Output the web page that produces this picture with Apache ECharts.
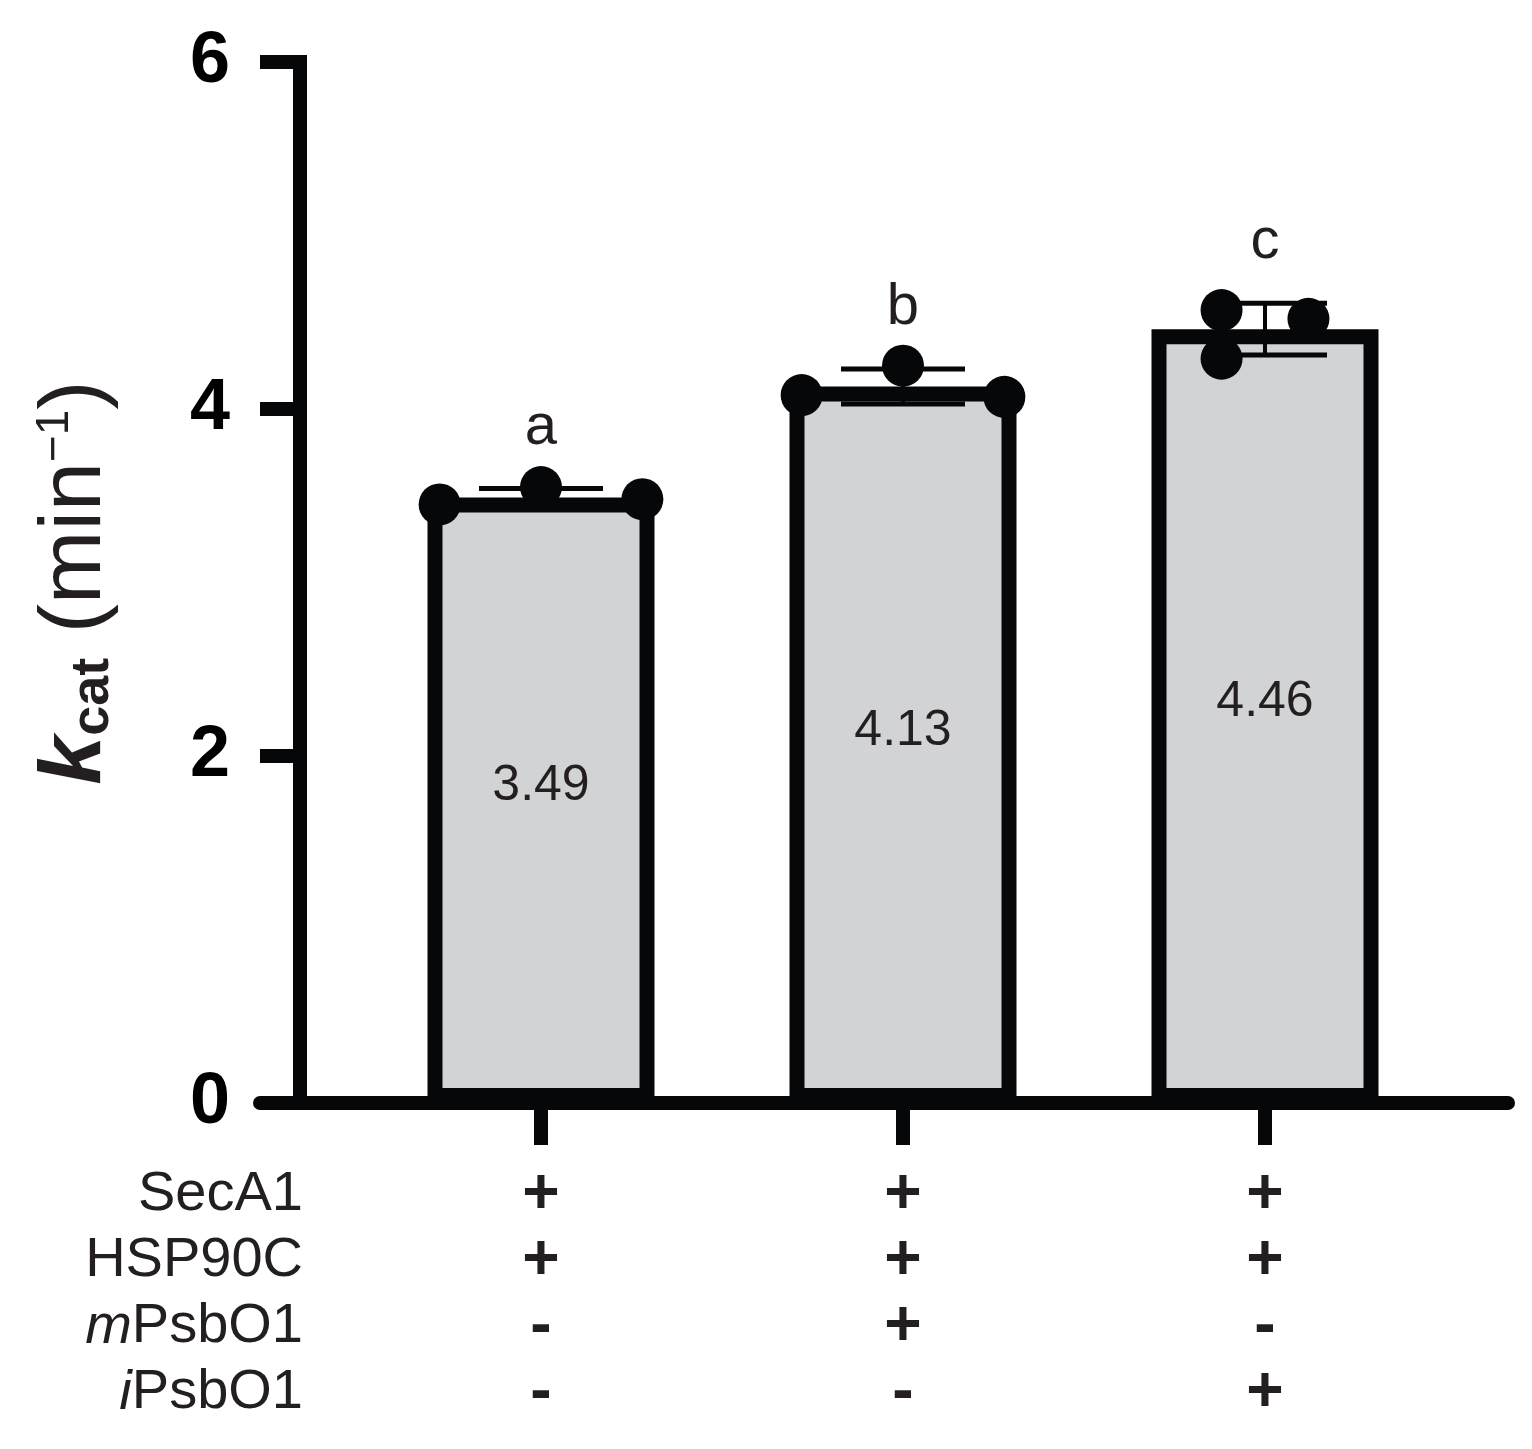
<!DOCTYPE html>
<html>
<head>
<meta charset="utf-8">
<script src="https://cdn.jsdelivr.net/npm/echarts@6.0.0/dist/echarts.min.js"></script>
<style>
html,body{margin:0;padding:0;background:#fff;}
#chart{width:1532px;height:1449px;}
</style>
</head>
<body>
<div id="chart"></div>
<script>
// ---- data ----
const categories = ['g1', 'g2', 'g3'];
const barMeans = [3.49, 4.13, 4.46];
const replicates = [
  [3.45, 3.55, 3.48],
  [4.08, 4.25, 4.07],
  [4.57, 4.29, 4.52]
];
const replicateJitter = [
  [-0.28, 0, 0.28],
  [-0.28, 0, 0.28],
  [-0.12, -0.12, 0.12]
];
const letters = ['a', 'b', 'c'];
const rowNames = ['SecA1', 'HSP90C', 'mPsbO1', 'iPsbO1'];
const rowSecA1 = ['+', '+', '+'];
const rowHSP90C = ['+', '+', '+'];
const rowMPsbO1 = ['-', '+', '-'];
const rowIPsbO1 = ['-', '-', '+'];
const yTicks = { min: 0, max: 6, interval: 2 };

// ---- derived ----
function sd(arr) {
  const m = arr.reduce((a, b) => a + b, 0) / arr.length;
  const v = arr.reduce((a, b) => a + (b - m) * (b - m), 0) / (arr.length - 1);
  return Math.sqrt(v);
}
const errData = barMeans.map((m, i) => {
  const s = sd(replicates[i]);
  return [i, m - s, m + s];
});
const scatterData = [];
replicates.forEach((arr, i) => {
  arr.forEach((v, j) => scatterData.push([i + 1 + replicateJitter[i][j], v]));
});
const rows = [rowSecA1, rowHSP90C, rowMPsbO1, rowIPsbO1];

const FONT = "'Liberation Sans', Arial, Helvetica, sans-serif";
const INK = '#231f20';
const LINE = '#050708';

const chart = echarts.init(document.getElementById('chart'), null, { renderer: 'canvas' });

const option = {
  backgroundColor: '#ffffff',
  animation: false,
  textStyle: { fontFamily: FONT },
  grid: [
    { left: 360, right: 86, top: 62, bottom: 346 },
    { left: 260, right: 24, top: 62, bottom: 346 }
  ],
  xAxis: [
    {
      type: 'category', gridIndex: 0, data: categories, boundaryGap: true,
      axisLine: { show: false },
      axisTick: { show: true, alignWithLabel: true, length: 42, lineStyle: { color: LINE, width: 14 } },
      axisLabel: {
        show: true, interval: 0, margin: 59, lineHeight: 66,
        formatter: (val, idx) => rows.map(r => '{s|' + r[idx] + '}').join('\n'),
        rich: { s: { fontSize: 64, fontWeight: 'bold', lineHeight: 66, color: INK, fontFamily: FONT } }
      },
      splitLine: { show: false }
    },
    {
      type: 'value', gridIndex: 0, min: 0.5, max: 3.5, show: false
    },
    {
      type: 'value', gridIndex: 1, min: 0, max: 1,
      axisLine: { show: true, lineStyle: { color: LINE, width: 14 } },
      axisTick: { show: false }, axisLabel: { show: false }, splitLine: { show: false }
    }
  ],
  yAxis: [
    {
      type: 'value', gridIndex: 0, min: yTicks.min, max: yTicks.max, interval: yTicks.interval,
      offset: 60,
      axisLine: { show: true, lineStyle: { color: LINE, width: 14, cap: 'square' } },
      axisTick: { show: true, length: 40, lineStyle: { color: LINE, width: 14 } },
      axisLabel: { margin: 70, fontSize: 72, fontWeight: 'bold', color: '#000', fontFamily: FONT },
      splitLine: { show: false },
      name: '{k|k}{sub|cat}{n| (min}{sup|\u22121}{n|)}',
      nameLocation: 'middle',
      nameGap: 180,
      nameRotate: 90,
      nameTextStyle: {
        color: INK, fontFamily: FONT,
        rich: {
          k: { fontSize: 88, fontWeight: 'bold', fontStyle: 'italic', color: INK, fontFamily: FONT },
          sub: { fontSize: 54, fontWeight: 'bold', verticalAlign: 'bottom', lineHeight: 40, color: INK, fontFamily: FONT },
          n: { fontSize: 88, color: INK, fontFamily: FONT },
          sup: { fontSize: 46, verticalAlign: 'top', color: INK, fontFamily: FONT }
        }
      }
    },
    { type: 'value', gridIndex: 1, min: 0, max: 1, show: false }
  ],
  graphic: [
    {
      type: 'text',
      x: 303, y: 1162,
      style: {
        text: rowNames.map(n => {
          if (n[0] === 'm' || n[0] === 'i') return '{it|' + n[0] + '}{t|' + n.slice(1) + '}';
          return '{t|' + n + '}';
        }).join('\n'),
        align: 'right', verticalAlign: 'top',
        rich: {
          t: { fontSize: 56, lineHeight: 66, fill: INK, fontFamily: FONT },
          it: { fontSize: 56, lineHeight: 66, fill: INK, fontStyle: 'italic', fontFamily: FONT }
        }
      }
    }
  ],
  series: [
    {
      type: 'bar', xAxisIndex: 0, yAxisIndex: 0,
      data: barMeans, barWidth: 227, z: 2,
      itemStyle: { color: '#d1d3d4', borderColor: LINE, borderWidth: 15 },
      label: {
        show: true, position: 'inside', offset: [0, -14],
        formatter: p => p.value.toFixed(2),
        fontSize: 50, color: INK, fontFamily: FONT
      }
    },
    {
      type: 'custom', xAxisIndex: 0, yAxisIndex: 0, z: 3,
      data: errData,
      renderItem: function (params, api) {
        const i = api.value(0);
        const top = api.coord([i, api.value(2)]);
        const bot = api.coord([i, api.value(1)]);
        const hw = 62;
        const st = { stroke: LINE, lineWidth: 5 };
        return {
          type: 'group',
          children: [
            { type: 'line', shape: { x1: top[0], y1: top[1], x2: bot[0], y2: bot[1] }, style: { stroke: LINE, lineWidth: 4 } },
            { type: 'line', shape: { x1: top[0] - hw, y1: top[1], x2: top[0] + hw, y2: top[1] }, style: st },
            { type: 'line', shape: { x1: bot[0] - hw, y1: bot[1], x2: bot[0] + hw, y2: bot[1] }, style: st },
            { type: 'text', x: top[0], y: top[1] - 32,
              style: { text: letters[params.dataIndex], fontSize: 58, fill: INK, align: 'center', verticalAlign: 'bottom', fontFamily: FONT } }
          ]
        };
      }
    },
    {
      type: 'scatter', xAxisIndex: 1, yAxisIndex: 0, z: 4,
      data: scatterData, symbol: 'circle', symbolSize: 42,
      itemStyle: { color: LINE, opacity: 1 }
    }
  ]
};
chart.setOption(option);
</script>
</body>
</html>
